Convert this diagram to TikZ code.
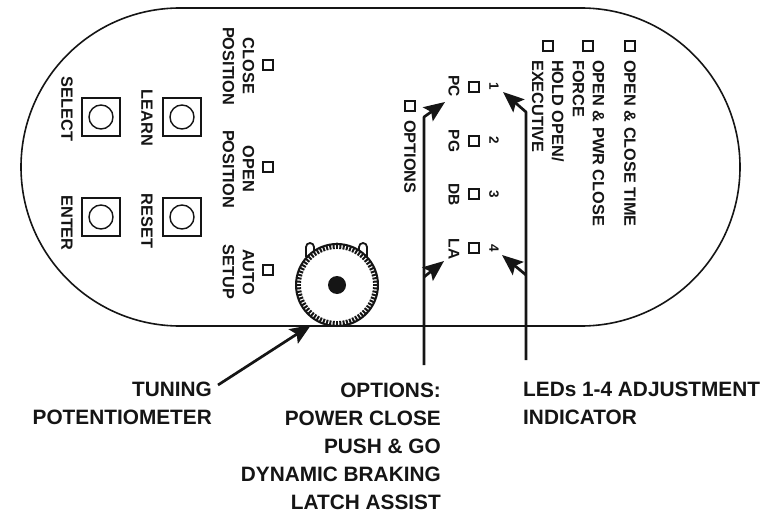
\documentclass[tikz,border=0pt]{standalone}
\usepackage{fontspec}
\setmainfont{Liberation Sans}
\usetikzlibrary{arrows.meta}
\definecolor{ink}{HTML}{151515}
\tikzset{
  panel/.style={draw=ink,line width=1.6pt},
  btn/.style={draw=ink,line width=1.4pt,fill=white,minimum size=38pt,inner sep=0pt},
  led/.style={draw=ink,line width=1.7pt,minimum size=9.5pt,inner sep=0pt},
  ledb/.style={draw=ink,line width=2pt,minimum size=10.5pt,inner sep=0pt},
  rlabel/.style={rotate=-90,text=ink,inner sep=0pt,font=\bfseries\fontsize{16.3}{20}\selectfont},
  digit/.style={rlabel,font=\bfseries\fontsize{13.5}{16}\selectfont},
  optcode/.style={rlabel,font=\bfseries\fontsize{15.5}{18}\selectfont},
  blabel/.style={text=ink,inner sep=0pt,font=\bfseries\fontsize{20.8}{28}\selectfont},
  callout/.style={draw=ink,line width=2.7pt,-{Stealth[length=21pt,width=17pt,inset=4pt]}},
}
\begin{document}
\begin{tikzpicture}[x=1pt,y=-1pt]
\useasboundingbox[fill=white] (0,0) rectangle (773,513);
% body outline
\draw[panel] (180,8) -- (581,8) arc[start angle=-90,end angle=90,radius=159] -- (180,326) arc[start angle=90,end angle=270,radius=159] -- cycle;
% buttons
\foreach \n/\x/\y in {select/101/117,learn/182/117,enter/101/217,reset/182/217}{
  \node[btn] (\n) at (\x,\y) {};
  \draw[ink,line width=1.4pt] (\n.center) circle[radius=12];
}
\node[rlabel] (lselect) at (67,109) {SELECT};
\node[rlabel] (llearn) at (147,118) {LEARN};
\node[rlabel] (lenter) at (67,223) {ENTER};
\node[rlabel] (lreset) at (147,221) {RESET};
% left LEDs
\node[led] (l1) at (268,65) {};
\node[led] (l2) at (268,167) {};
\node[led] (l3) at (268,270) {};
\node[rlabel,align=center] (t1) at (238.5,66) {CLOSE\\POSITION};
\node[rlabel,align=center] (t2) at (238.5,169) {OPEN\\POSITION};
\node[rlabel,align=center] (t3) at (238.5,272) {AUTO\\SETUP};
% top-right LEDs
\node[ledb] (a1) at (630,46) {};
\node[ledb] (a2) at (588,46) {};
\node[ledb] (a3) at (548,46) {};
\node[rlabel,anchor=west] (ta1) at (630,60) {OPEN \& CLOSE TIME};
\node[rlabel,anchor=west,align=left] (ta2) at (588.5,60) {OPEN \& PWR CLOSE\\FORCE};
\node[rlabel,anchor=west,align=left] (ta3) at (548,60) {HOLD OPEN/\\EXECUTIVE};
% 1-4 LEDs
\node[led] (n1) at (474,87) {};
\node[led] (n2) at (474,141) {};
\node[led] (n3) at (474,194) {};
\node[led] (n4) at (474,248) {};
\node[digit] (d1) at (494,86) {1};
\node[digit] (d2) at (494,140) {2};
\node[digit] (d3) at (494,194) {3};
\node[digit] (d4) at (494,248) {4};
\node[optcode] (o1) at (454,86) {PC};
\node[optcode] (o2) at (454,141) {PG};
\node[optcode] (o3) at (454,195) {DB};
\node[optcode] (o4) at (454,249) {LA};
\node[led] (opt) at (410,106) {};
\node[rlabel,anchor=west] (topt) at (410,120) {OPTIONS};
% knob
\coordinate (knob) at (337,285);
\foreach \x/\t in {310/243,363/243}{
  \draw[ink,line width=1.8pt,fill=white] (\x-4,257) -- (\x-4,\t+4) arc[start angle=180,end angle=360,radius=4] -- (\x+4,257);
}
\fill[ink] (337,247) circle[radius=4.5];
\draw[ink,line width=2pt,fill=white] (knob) circle[radius=41];
\foreach \a in {0,5,...,355}{
  \draw[ink,line width=2pt] (knob) ++(\a:36) -- ++(\a:5);
}
\fill[ink] (knob) circle[radius=9];
% lower labels
\node[blabel,anchor=north east,align=right] (ltun) at (212,382) {TUNING\\POTENTIOMETER};
\node[blabel,anchor=north east,align=right] (lopt) at (441,382.5) {OPTIONS:\\POWER CLOSE\\PUSH \& GO\\DYNAMIC BRAKING\\LATCH ASSIST};
\node[blabel,anchor=north west,align=left] (lled) at (523,382) {LEDs 1-4 ADJUSTMENT\\INDICATOR};
% callouts
\coordinate (tunS) at (218,385);
\coordinate (tunE) at (311,325);
\draw[callout] (tunS) -- (tunE);
\coordinate (optS) at (424,365);
\coordinate (optB) at (424,117);
\coordinate (optPC) at (445,102);
\coordinate (optM) at (424,277);
\coordinate (optLA) at (444,261);
\coordinate (ledS) at (526,360);
\coordinate (ledB) at (526,112);
\coordinate (led1) at (503,92);
\coordinate (ledM) at (526,275);
\coordinate (led4) at (502,255);
\draw[callout,line join=round] (optS) -- (optB) -- (optPC);
\draw[callout] (optM) -- (optLA);
\draw[callout,line join=round] (ledS) -- (ledB) -- (led1);
\draw[callout] (ledM) -- (led4);
\end{tikzpicture}
\end{document}
